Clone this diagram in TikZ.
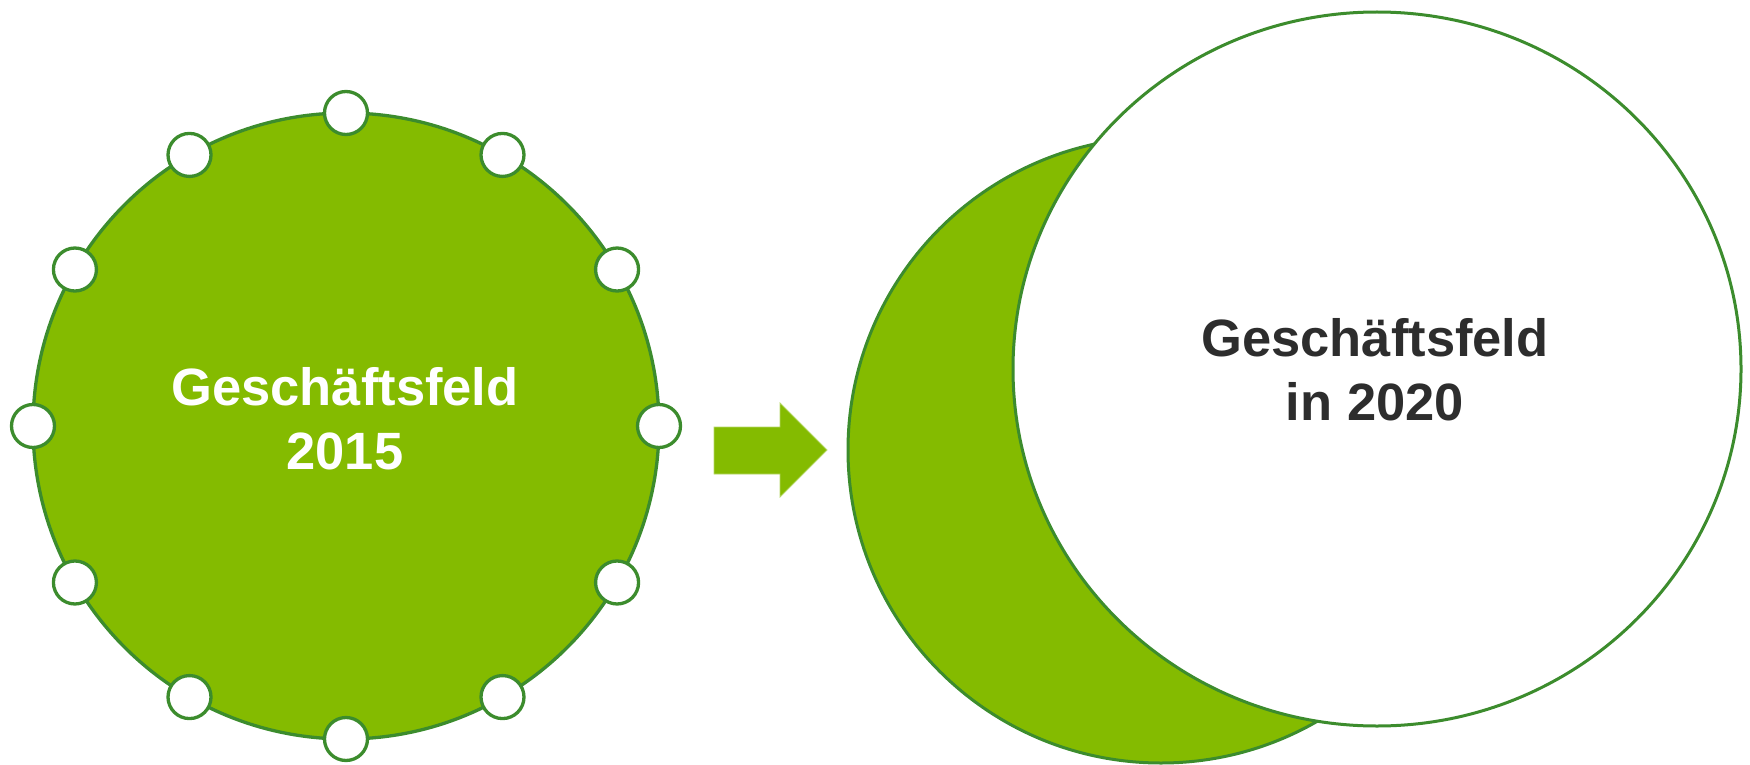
\documentclass[tikz,border=0pt]{standalone}
\usepackage{fontspec}
\setmainfont{Liberation Sans}
\usetikzlibrary{shapes.geometric}
\definecolor{leaf}{HTML}{84BB00}
\definecolor{rim}{HTML}{3C8C2D}
\definecolor{ink}{HTML}{2D2D2D}
\begin{document}
\begin{tikzpicture}[x=1pt,y=-1pt,
  field/.style={circle,draw=rim,fill=leaf,line width=3.3pt,inner sep=0pt,outer sep=0pt,minimum size=626pt},
  port/.style={circle,draw=rim,fill=white,line width=3.3pt,inner sep=0pt,minimum size=43pt},
  bigtext/.style={font=\bfseries\fontsize{52.5}{64}\selectfont,align=center,inner sep=0pt}]
\useasboundingbox (0,0) rectangle (1750,765);
% business field 2015 with its twelve ports
\node[field] (old) at (346,426) {};
\foreach \a [count=\i] in {0,30,...,330}
  \node[port] (p\i) at (old.\a) {};
\node[bigtext,text=white] (oldtext) at (345,419) {Geschäftsfeld\\2015};
% block arrow
\path[fill=leaf,draw=leaf!60,line width=0.8pt]
  (714,427) -- (780,427) -- (780,403) -- (827,450) -- (780,497) -- (780,474) -- (714,474) -- cycle;
% business field 2020
\node[field,line width=3pt] (back) at (1161,450) {};
\node[ellipse,draw=rim,fill=white,line width=3pt,inner sep=0pt,outer sep=0pt,
  minimum width=728pt,minimum height=714pt] (new) at (1377,369) {};
\node[bigtext,text=ink] (newtext) at (1375,370) {Geschäftsfeld\\in 2020};
\end{tikzpicture}
\end{document}
